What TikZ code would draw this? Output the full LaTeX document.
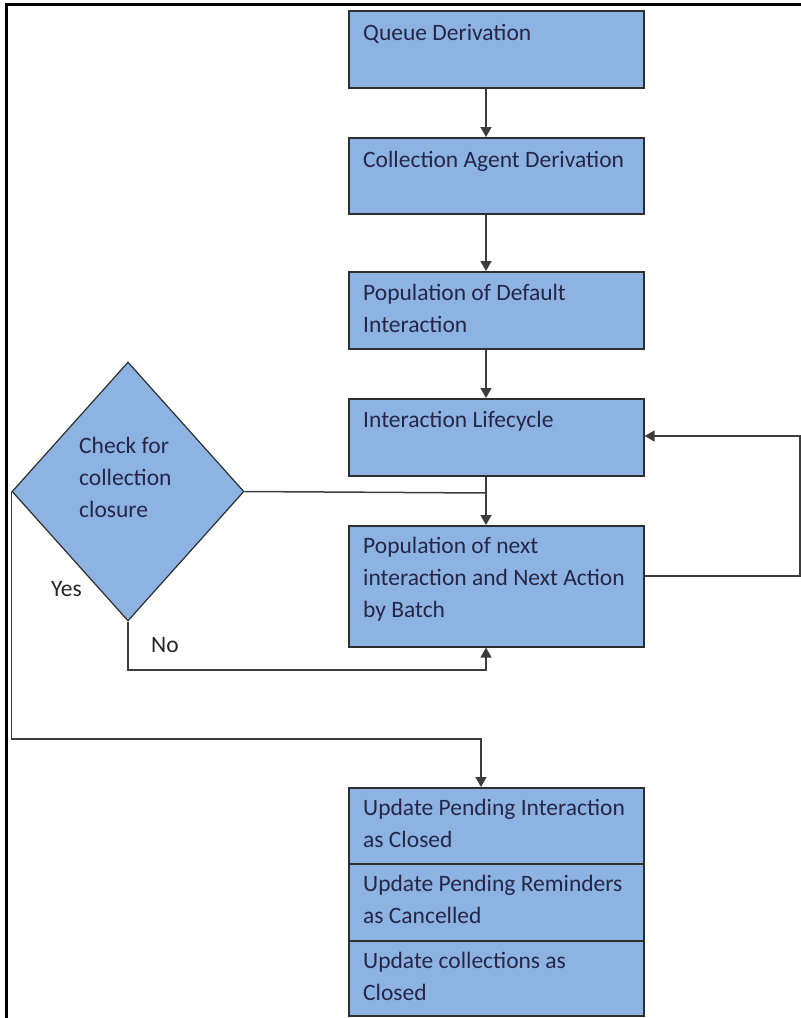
\documentclass[tikz,border=0pt]{standalone}
\usepackage{fontspec}
\setmainfont{Carlito}
\usetikzlibrary{arrows.meta,shapes.geometric}
\definecolor{boxfill}{HTML}{8DB3E2}
\definecolor{boxline}{HTML}{2E2E2E}
\definecolor{conline}{HTML}{3C3C3C}
\definecolor{txt}{HTML}{262648}
\newcommand{\btxt}[1]{\parbox[t]{290pt}{\raggedright\fontsize{23.5}{32}\selectfont #1}}
\tikzset{
  stepbox/.style={draw=boxline, line width=1.6pt, fill=boxfill, rectangle, inner sep=0pt},
  boxtext/.style={anchor=base west, inner sep=0pt, text=txt},
  lbl/.style={anchor=base west, inner sep=0pt, text=black!85, font=\fontsize{23.5}{32}\selectfont},
  conn/.style={draw=conline, line width=1.5pt},
  arr/.style={conn, -{Triangle[length=10pt,width=11pt]}}
}
\newcommand{\mkbox}[5]{% name, x1, y1, x2, y2
  \node[stepbox, minimum width=#4-#2, minimum height=#5-#3, anchor=north west] (#1) at (#2,#3) {};}
\begin{document}
\begin{tikzpicture}[x=1pt,y=-1pt]
\useasboundingbox (0,0) rectangle (801,1018);
% frame
\draw[black, line width=3pt] (6,1018) -- (6,4) -- (801,4);

% boxes
\mkbox{q}{348}{10}{643}{87}
\mkbox{c}{348}{137}{643}{213}
\mkbox{p}{348}{271}{643}{348}
\mkbox{l}{348}{398}{643}{475}
\mkbox{n}{348}{525}{643}{646}
\mkbox{u1}{348}{787}{643}{863}
\mkbox{u2}{348}{863}{643}{940}
\mkbox{u3}{348}{940}{643}{1015}

% diamond
\node[draw=boxline, line width=1.2pt, fill=boxfill, diamond, inner sep=0pt,
      minimum width=232pt, minimum height=259pt] (d) at (128,491.5) {};

% texts
\node[boxtext] (tq) at ([xshift=15pt,yshift=-30pt]q.north west) {\btxt{Queue Derivation}};
\node[boxtext] (tc) at ([xshift=15pt,yshift=-30pt]c.north west) {\btxt{Collection Agent Derivation}};
\node[boxtext] (tp) at ([xshift=15pt,yshift=-29pt]p.north west) {\btxt{Population of Default\\Interaction}};
\node[boxtext] (tl) at ([xshift=15pt,yshift=-29pt]l.north west) {\btxt{Interaction Lifecycle}};
\node[boxtext] (tn) at ([xshift=15pt,yshift=-28pt]n.north west) {\btxt{Population of next\\interaction and Next Action\\by Batch}};
\node[boxtext] (tu1) at ([xshift=15pt,yshift=-28pt]u1.north west) {\btxt{Update Pending Interaction\\as Closed}};
\node[boxtext] (tu2) at ([xshift=15pt,yshift=-28pt]u2.north west) {\btxt{Update Pending Reminders\\as Cancelled}};
\node[boxtext] (tu3) at ([xshift=15pt,yshift=-28pt]u3.north west) {\btxt{Update collections as\\Closed}};
\node[boxtext] (td) at (79,453) {\btxt{Check for\\collection\\closure}};
\node[lbl] (yes) at (51,596) {Yes};
\node[lbl] (no) at (151,652) {No};

% connectors
\draw[arr] (q.south -| 486,0) -- (c.north -| 486,0);
\draw[arr] (c.south -| 486,0) -- (p.north -| 486,0);
\draw[arr] (p.south -| 486,0) -- (l.north -| 486,0);
\draw[arr] (l.south -| 486,0) -- (n.north -| 486,0);
\coordinate (j) at (486,493);
\draw[conn] (d.east) -- (j);
\coordinate (nob) at (486,670);
\draw[arr] (d.south) |- (nob) -- (n.south -| 486,0);
\coordinate (yb) at (481,739);
\draw[arr] (d.west) |- (yb) -- (u1.north -| 481,0);
\coordinate (r1) at (800,576);
\coordinate (r2) at (800,436);
\draw[arr] (n.east |- r1) -- (r1) -- (r2) -- (l.east |- r2);
\end{tikzpicture}
\end{document}
